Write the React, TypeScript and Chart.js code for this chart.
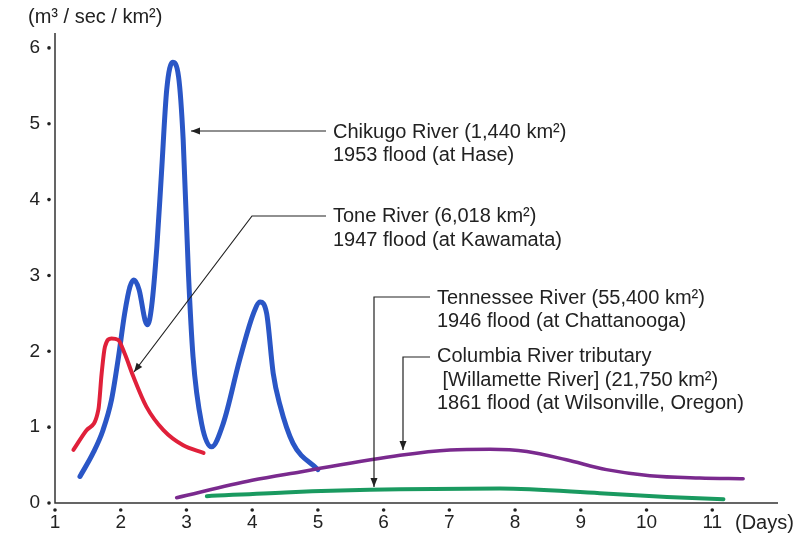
import React, { useEffect, useRef } from "react";
import { Chart, registerables } from "chart.js";
Chart.register(...registerables);

const xTicks = [1, 2, 3, 4, 5, 6, 7, 8, 9, 10, 11];
const yTicks = [0, 1, 2, 3, 4, 5, 6];

const chikugoX = [1.38, 1.58, 1.73, 1.86, 1.96, 2.06, 2.14, 2.2, 2.28, 2.37, 2.41, 2.47, 2.55, 2.62, 2.7, 2.79, 2.88, 2.95, 3.03, 3.1, 3.23, 3.38, 3.56, 3.81, 4.02, 4.12, 4.22, 4.32, 4.42, 4.62, 5.0];
const chikugoY = [0.35, 0.66, 0.96, 1.36, 1.89, 2.5, 2.85, 2.94, 2.81, 2.41, 2.35, 2.59, 3.38, 4.35, 5.45, 5.81, 5.62, 4.79, 3.03, 1.93, 1.05, 0.74, 1.05, 1.89, 2.5, 2.65, 2.5, 1.71, 1.3, 0.79, 0.44];

const toneX = [1.28, 1.48, 1.66, 1.71, 1.76, 1.86, 1.96, 2.06, 2.19, 2.39, 2.65, 2.95, 3.26];
const toneY = [0.7, 0.96, 1.23, 1.71, 2.06, 2.17, 2.15, 1.97, 1.67, 1.27, 0.96, 0.76, 0.66];

const willametteX = [2.85, 4.0, 4.73, 6.25, 7.01, 7.62, 8.18, 8.78, 9.39, 10.05, 10.81, 11.47];
const willametteY = [0.07, 0.3, 0.41, 0.63, 0.7, 0.71, 0.68, 0.57, 0.44, 0.36, 0.33, 0.32];

const tennesseeX = [3.31, 4.5, 6.25, 7.77, 9.29, 10.31, 11.17];
const tennesseeY = [0.09, 0.14, 0.18, 0.19, 0.13, 0.08, 0.05];

const FONT = '"Liberation Sans", Arial, sans-serif';

function pts(xs: number[], ys: number[]) {
  return xs.map((x, i) => ({ x, y: ys[i] }));
}

const annotPlugin = {
  id: "annot",
  afterDraw(chart: any) {
    const ctx = chart.ctx as CanvasRenderingContext2D;
    const xs = chart.scales.x;
    const ys = chart.scales.y;
    const X = (v: number) => xs.getPixelForValue(v);
    const Y = (v: number) => ys.getPixelForValue(v);
    const area = chart.chartArea;
    ctx.save();
    // axes
    ctx.strokeStyle = "#333";
    ctx.lineWidth = 1.5;
    ctx.beginPath();
    ctx.moveTo(area.left, area.top - 2);
    ctx.lineTo(area.left, area.bottom);
    ctx.lineTo(area.right, area.bottom);
    ctx.stroke();
    // tick dots and labels
    ctx.fillStyle = "#222";
    ctx.font = `19px ${FONT}`;
    ctx.textBaseline = "middle";
    ctx.textAlign = "right";
    yTicks.forEach((t) => {
      const py = Y(t);
      ctx.beginPath();
      ctx.arc(area.left - 6, py, 1.8, 0, Math.PI * 2);
      ctx.fill();
      ctx.fillText(String(t), area.left - 15, py);
    });
    ctx.textAlign = "center";
    xTicks.forEach((t) => {
      const px = X(t);
      ctx.beginPath();
      ctx.arc(px, area.bottom + 7, 1.8, 0, Math.PI * 2);
      ctx.fill();
      ctx.fillText(String(t), px, area.bottom + 20);
    });
    ctx.textAlign = "left";
    ctx.font = `20px ${FONT}`;
    ctx.fillText("(Days)", 735, area.bottom + 20);
    ctx.fillText("(m³ / sec / km²)", 28, 17);

    // annotation texts
    ctx.font = `20px ${FONT}`;
    ctx.fillStyle = "#222";
    const lines: [string, number, number][] = [
      ["Chikugo River (1,440 km²)", 333, 132],
      ["1953 flood (at Hase)", 333, 155],
      ["Tone River (6,018 km²)", 333, 216],
      ["1947 flood (at Kawamata)", 333, 240],
      ["Tennessee River (55,400 km²)", 437, 298],
      ["1946 flood (at Chattanooga)", 437, 321],
      ["Columbia River tributary", 437, 356],
      [" [Willamette River] (21,750 km²)", 437, 380],
      ["1861 flood (at Wilsonville, Oregon)", 437, 403],
    ];
    lines.forEach(([t, x, y]) => ctx.fillText(t, x, y));

    // connector lines
    ctx.strokeStyle = "#222";
    ctx.lineWidth = 1.2;
    const arrowHead = (x1: number, y1: number, x2: number, y2: number) => {
      const a = Math.atan2(y2 - y1, x2 - x1);
      const L = 9, W = 3.5;
      ctx.beginPath();
      ctx.moveTo(x2, y2);
      ctx.lineTo(x2 - L * Math.cos(a) + W * Math.sin(a), y2 - L * Math.sin(a) - W * Math.cos(a));
      ctx.lineTo(x2 - L * Math.cos(a) - W * Math.sin(a), y2 - L * Math.sin(a) + W * Math.cos(a));
      ctx.closePath();
      ctx.fill();
    };
    // Chikugo
    ctx.beginPath();
    ctx.moveTo(326, 131);
    ctx.lineTo(191, 131);
    ctx.stroke();
    arrowHead(326, 131, 191, 131);
    // Tone
    ctx.beginPath();
    ctx.moveTo(326, 216);
    ctx.lineTo(252, 216);
    ctx.lineTo(134, 372);
    ctx.stroke();
    arrowHead(252, 216, 134, 372);
    // Tennessee
    ctx.beginPath();
    ctx.moveTo(430, 297);
    ctx.lineTo(374, 297);
    ctx.lineTo(374, 487);
    ctx.stroke();
    arrowHead(374, 297, 374, 487);
    // Columbia
    ctx.beginPath();
    ctx.moveTo(430, 357);
    ctx.lineTo(403, 357);
    ctx.lineTo(403, 450);
    ctx.stroke();
    arrowHead(403, 357, 403, 450);
    ctx.restore();
  },
};

export default function App() {
  const ref = useRef<HTMLCanvasElement>(null);
  useEffect(() => {
    const ds = (data: any, color: string, w: number) => ({
      data,
      borderColor: color,
      borderWidth: w,
      pointRadius: 0,
      fill: false,
      cubicInterpolationMode: "monotone" as const,
      borderCapStyle: "round" as const,
      borderJoinStyle: "round" as const,
    });
    const chart = new Chart(ref.current!, {
      type: "line",
      data: {
        datasets: [
          ds(pts(willametteX, willametteY), "#7a2a8e", 3.5),
          ds(pts(tennesseeX, tennesseeY), "#1a9a60", 4),
          ds(pts(toneX, toneY), "#e0203a", 4),
          ds(pts(chikugoX, chikugoY), "#2a56c6", 5),
        ],
      },
      options: {
        responsive: false,
        animation: false,
        layout: { padding: { left: 55, right: 20, top: 35, bottom: 39 } },
        plugins: { legend: { display: false }, tooltip: { enabled: false } },
        scales: {
          x: { type: "linear", min: 1, max: 12, display: false },
          y: { type: "linear", min: 0, max: 6.17, display: false },
        },
      },
      plugins: [annotPlugin],
    });
    return () => chart.destroy();
  }, []);
  return (
    <div style={{ position: "absolute", left: 0, top: 0, width: 798, height: 542, background: "#fff" }}>
      <canvas ref={ref} width={798} height={542} style={{ display: "block" }} />
    </div>
  );
}
